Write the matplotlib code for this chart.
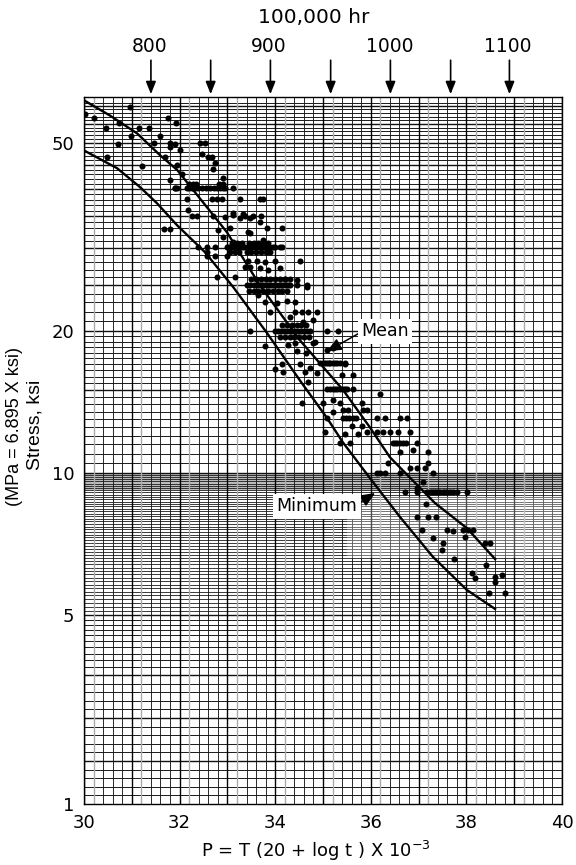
import numpy as np
import matplotlib
matplotlib.use("Agg")
import matplotlib.pyplot as plt

plt.rcParams['font.family'] = ['DejaVu Sans']
plt.rcParams['mathtext.default'] = 'regular'

# ---- data ----
x_ticks = [30, 32, 34, 36, 38, 40]
y_ticks = [1, 5, 10, 20, 50]
arrow_p = [31.40, 32.65, 33.90, 35.16, 36.41, 37.67, 38.90]
temp_labels = ['800', '900', '1000', '1100']
temp_p = [31.38, 33.87, 36.39, 38.87]

mean_p = [30.0, 30.54, 31.11, 31.59, 31.95, 32.49, 32.99, 33.68, 34.52, 35.42, 35.98, 36.40, 37.34, 38.01, 38.60]
mean_s = [61.7, 57.3, 52.5, 47.2, 43.9, 37.5, 32.4, 25.0, 19.1, 15.0, 12.5, 10.8, 8.64, 7.64, 6.57]
min_p = [30.0, 30.69, 31.17, 31.53, 31.95, 32.53, 33.12, 33.83, 34.52, 35.08, 35.42, 35.98, 36.61, 37.30, 38.01, 38.60]
min_s = [48.3, 44.3, 40.4, 37.3, 33.5, 29.4, 24.8, 19.8, 15.7, 13.1, 11.6, 9.76, 8.07, 6.64, 5.65, 5.15]

# rows of tests run at one stress
p_at_40 = [31.9, 31.95, 32.15, 32.2, 32.25, 32.28, 32.32, 32.38, 32.47, 32.55, 32.64, 32.72, 32.78, 32.85, 32.91, 32.96, 33.12]
p_at_41 = [32.2, 32.28, 32.35, 32.82, 32.9]
p_at_30 = [32.38, 32.57, 32.74, 32.99, 33.03, 33.07, 33.12, 33.16, 33.2, 33.25, 33.3, 33.35, 33.4, 33.45, 33.5, 33.55,
           33.6, 33.65, 33.7, 33.75, 33.8, 33.85, 33.9, 33.95, 34.0, 34.1, 34.15]
p_at_31 = [33.1, 33.2, 33.3, 33.45, 33.55, 33.65, 33.75, 33.85]
p_at_29 = [33.05, 33.15, 33.25, 33.4, 33.5, 33.6, 33.7, 33.8, 33.9]
p_at_25 = [33.4, 33.47, 33.55, 33.62, 33.68, 33.72, 33.77, 33.82, 33.87, 33.92, 33.97, 34.02, 34.07, 34.12, 34.17, 34.22,
           34.27, 34.31, 34.46, 34.67]
p_at_26 = [33.5, 33.6, 33.7, 33.8, 33.9, 34.0, 34.1, 34.2, 34.3]
p_at_24 = [33.45, 33.55, 33.65, 33.75, 33.85, 33.95, 34.05, 34.15, 34.25]
p_at_20 = [33.47, 34.0, 34.06, 34.12, 34.18, 34.24, 34.3, 34.36, 34.42, 34.48, 34.54, 34.6, 34.67, 34.73, 35.08, 35.31]
p_at_21 = [34.15, 34.25, 34.35, 34.45, 34.55, 34.65]
p_at_19 = [34.1, 34.2, 34.3, 34.4, 34.5, 34.6, 34.7]
p_at_17 = [34.94, 35.0, 35.04, 35.08, 35.12, 35.15, 35.2, 35.25, 35.3, 35.36, 35.46]
p_at_15 = [35.08, 35.14, 35.2, 35.25, 35.3, 35.36, 35.42, 35.46, 35.5, 35.63]
p_at_13 = [35.08, 35.42, 35.48, 35.55, 35.62, 35.7, 36.13, 36.3, 36.61, 36.76]
p_at_12 = [35.92, 36.13, 36.26, 36.4, 36.57, 36.82]
p_at_11 = [36.46, 36.5, 36.55, 36.61, 36.67, 36.74, 36.97]
p_at_10 = [36.13, 36.19, 36.3, 36.61, 37.3]
p_at_9 = [36.72, 36.97, 37.18, 37.24, 37.28, 37.32, 37.36, 37.4, 37.45, 37.5, 37.55, 37.6, 37.66, 37.72, 37.8, 38.01]

upper_p = [30.02, 30.21, 30.46, 30.73, 30.96, 30.98, 31.15, 31.36, 31.59, 31.76, 31.92, 30.71, 30.48, 31.21, 31.46, 31.8, 31.9, 31.8,
           31.69, 31.8, 31.9, 31.67, 31.8, 32.01, 32.43, 32.53, 32.47, 32.59, 32.68, 32.74, 32.7, 31.95, 32.05,
           32.91, 32.15, 32.68, 32.78, 32.89, 33.26, 33.68, 33.74, 32.18, 32.26, 32.36, 32.7, 32.95, 33.12, 33.26, 33.47,
           33.37, 33.54, 33.7, 33.12, 33.33, 33.43, 33.68, 33.83, 34.14, 32.8, 33.05, 32.91]
upper_s = [57.6, 56.5, 53.8, 55.2, 59.6, 51.8, 53.8, 53.8, 51.8, 56.5, 55.2, 49.8, 46.7, 44.7, 50.0, 50.0, 49.8, 49.0,
           46.7, 41.8, 40.2, 32.9, 32.9, 48.3, 50.2, 50.0, 47.5, 46.7, 46.7, 45.4, 44.1, 44.9, 43.0,
           42.2, 38.1, 38.1, 38.1, 38.1, 38.1, 38.1, 38.1, 36.1, 35.0, 35.0, 35.0, 34.9, 35.2, 34.8, 34.8,
           35.0, 35.0, 35.0, 35.6, 35.5, 32.4, 34.0, 33.0, 33.0, 32.7, 33.0, 31.6]

middle_p = [33.74, 33.47, 33.12, 32.57, 33.43, 33.37, 33.62, 33.79, 33.99, 34.52, 33.47, 33.68, 33.85, 34.1, 32.74, 32.99,
            32.57, 32.78, 33.16, 34.46, 34.67, 34.2, 33.64, 33.79, 33.89, 34.04, 34.25, 34.41, 34.41, 34.56, 34.69,
            34.87, 34.31, 34.58, 34.79, 34.79, 34.41, 34.27, 33.79, 34.46, 34.64, 34.83, 35.08, 35.21, 34.14, 33.99,
            34.16, 34.52, 34.73, 34.87, 34.62, 35.4, 35.63, 35.46, 34.69]
middle_s = [31.2, 32.2, 30.9, 29.4, 28.2, 27.4, 28.2, 28.0, 28.2, 28.1, 27.3, 27.2, 27.0, 27.2, 28.9, 28.9,
            28.8, 26.0, 26.0, 25.7, 24.8, 25.8, 23.8, 23.0, 21.9, 22.9, 23.2, 23.0, 21.9, 21.9, 21.9,
            21.9, 21.4, 20.9, 21.1, 18.9, 18.9, 18.7, 18.6, 18.1, 18.0, 19.0, 18.2, 18.4, 17.0, 16.6,
            16.4, 17.0, 16.7, 16.3, 16.4, 16.1, 16.1, 17.0, 15.6]

lower_p = [36.19, 34.56, 35.0, 35.21, 35.36, 35.82, 35.21, 35.42, 35.52, 35.84, 35.92, 35.04, 35.61, 35.82, 35.46, 35.73,
           35.36, 35.56, 36.61, 36.88, 37.2, 36.36, 37.2, 36.82, 36.97, 37.13, 37.09, 36.97, 37.15, 36.97, 37.2,
           37.36, 37.07, 37.3, 37.51, 37.49, 37.59, 37.72, 37.93, 38.03, 38.14, 37.97, 38.39, 38.49, 37.74, 38.41,
           38.12, 38.18, 38.6, 38.74, 38.6, 38.47, 38.81]
lower_s = [14.7, 14.1, 14.1, 14.3, 14.1, 14.1, 13.5, 13.6, 13.6, 13.6, 13.6, 12.2, 12.6, 12.6, 12.1, 12.1,
           11.6, 11.6, 11.1, 11.2, 11.1, 10.5, 10.5, 10.25, 10.25, 10.25, 9.57, 9.3, 8.6, 8.07, 8.07,
           8.07, 7.57, 7.28, 7.11, 6.87, 7.57, 7.55, 7.57, 7.57, 7.57, 7.3, 7.11, 7.11, 6.57, 6.38,
           6.14, 6.0, 6.03, 6.07, 5.88, 5.57, 5.57]

p_rows = [p_at_41, p_at_40, p_at_31, p_at_30, p_at_29, p_at_26, p_at_25, p_at_24, p_at_21, p_at_20, p_at_19,
          p_at_17, p_at_15, p_at_13, p_at_12, p_at_11, p_at_10, p_at_9]
stress_rows = [41.0, 40.2, 30.8, 30.1, 29.4, 25.8, 25.0, 24.3, 20.6, 20.0, 19.4, 17.1, 15.1, 13.1, 12.2, 11.6, 10.0, 9.12]

# ---- paper scale: log above 5 ksi, compressed log below ----
log_knots = [0.0, np.log10(5), np.log10(62.7)]
pos_knots = [0.0, 189.0, 707.0]
def fwd(v):
    return np.interp(np.log10(np.maximum(v, 1e-6)), log_knots, pos_knots)
def inv(h):
    return 10 ** np.interp(h, pos_knots, log_knots)

W, H = 576, 865
fig = plt.figure(figsize=(W / 100, H / 100), dpi=100, facecolor='white')
ax = fig.add_axes([84 / W, 1 - 804 / H, (562 - 84) / W, (804 - 97) / H])
ax.set_yscale('function', functions=(fwd, inv))
ax.set_xlim(30, 40)
ax.set_ylim(1, 62.7)

# ---- graph paper ----
h_low = np.geomspace(1, 3, 16)
h_mid = np.arange(3.2, 5.01, 0.2)
h_band = np.arange(5, 10, 0.1)
h_10 = np.arange(10, 20, 0.5)
h_20 = np.arange(20, 62, 1.0)
# photocopy tone behind the dense band
ax.axhspan(9.2, 10, color='#777777', alpha=0.5, lw=0, zorder=0.5)
for vals, lw in ((h_low, 0.7), (h_mid, 0.7), (h_band, 0.6), (h_10, 0.7), (h_20, 0.7)):
    ax.hlines(vals, 30, 40, color='#1a1a1a', lw=lw, zorder=1)
h_bold = [5, 10, 15, 20, 25, 30, 35, 40, 45, 50, 55, 60, h_low[5], h_low[10], h_low[15]]
ax.hlines(h_bold, 30, 40, color='#111111', lw=1.0, zorder=1)
minor_x = [v / 10 for v in range(300, 400, 2) if v % 10 != 0]
grey_x = [v for v in minor_x if round(v * 10) % 10 == 2]
ax.vlines([v for v in minor_x if v not in grey_x], 1, 62.7, color='#1a1a1a', lw=0.65, zorder=1)
ax.vlines(grey_x, 1, 62.7, color='#aaaaaa', lw=1.0, zorder=1)
ax.vlines(np.arange(30, 41), 1, 62.7, color='black', lw=1.0, zorder=1)
ax.axhspan(6.6, 8.9, xmin=0.55, color='white', alpha=0.3, lw=0, zorder=1.5)

# ---- data ----
for s, row in zip(stress_rows, p_rows):
    ax.scatter(row, [s] * len(row), s=19, color='black', lw=0, zorder=3)
ax.scatter(upper_p, upper_s, s=19, color='black', lw=0, zorder=3)
ax.scatter(middle_p, middle_s, s=19, color='black', lw=0, zorder=3)
ax.scatter(lower_p, lower_s, s=19, color='black', lw=0, zorder=3)
ax.plot(mean_p, mean_s, color='black', lw=1.7, zorder=4)
ax.plot(min_p, min_s, color='black', lw=1.7, zorder=4)

# ---- notes ----
box = dict(boxstyle='square,pad=0.2', fc='white', ec='none')
ax.annotate('Mean', xy=(35.08, 18.1), xytext=(36.3, 20.0), fontsize=12.5, ha='center', va='center', bbox=box,
            arrowprops=dict(arrowstyle='-|>,head_width=0.3,head_length=0.7', color='black', lw=1.1,
                            shrinkA=0, shrinkB=0, relpos=(0, 0.45)), zorder=6)
ax.annotate('Minimum', xy=(36.09, 9.07), xytext=(34.87, 8.51), fontsize=12.5, ha='center', va='center', bbox=box,
            arrowprops=dict(arrowstyle='-|>,head_width=0.3,head_length=0.7', color='black', lw=1.1,
                            shrinkA=0, shrinkB=0, relpos=(1, 0.6)), zorder=6)

# ---- axes ----
ax.set_xticks(x_ticks)
ax.set_xticklabels([str(v) for v in x_ticks], fontsize=13)
ax.set_yticks(y_ticks)
ax.set_yticklabels([str(v) for v in y_ticks], fontsize=13)
ax.minorticks_off()
ax.tick_params(length=0, pad=7)
ax.set_axisbelow(False)
for sp in ax.spines.values():
    sp.set_linewidth(1.0)

trans = ax.get_xaxis_transform()
for p in arrow_p:
    ax.annotate('', xy=(p, 1.004), xytext=(p, 1.052), xycoords=trans, textcoords=trans,
                arrowprops=dict(arrowstyle='-|>,head_width=0.3,head_length=0.75', color='black', lw=1.2,
                                shrinkA=0, shrinkB=0), annotation_clip=False)
for p, t in zip(temp_p, temp_labels):
    ax.text(p, 1.0636, t, transform=trans, ha='center', va='baseline', fontsize=13.5)
ax.text(34.8, 1.105, '100,000 hr', transform=trans, ha='center', va='baseline', fontsize=14.5)

fig.text(316 / W, 1 - 851 / H, 'P = T (20 + log t ) X 10$^{-3}$', ha='center', va='center', fontsize=13)
fig.text(35 / W, 1 - 425 / H, 'Stress, ksi', rotation=90, ha='center', va='center', fontsize=14,
         family='Liberation Sans')
fig.text(15 / W, 1 - 426 / H, '(MPa = 6.895 X ksi)', rotation=90, ha='center', va='center', fontsize=13,
         family='Liberation Sans')

fig.savefig('out.png', dpi=100)
